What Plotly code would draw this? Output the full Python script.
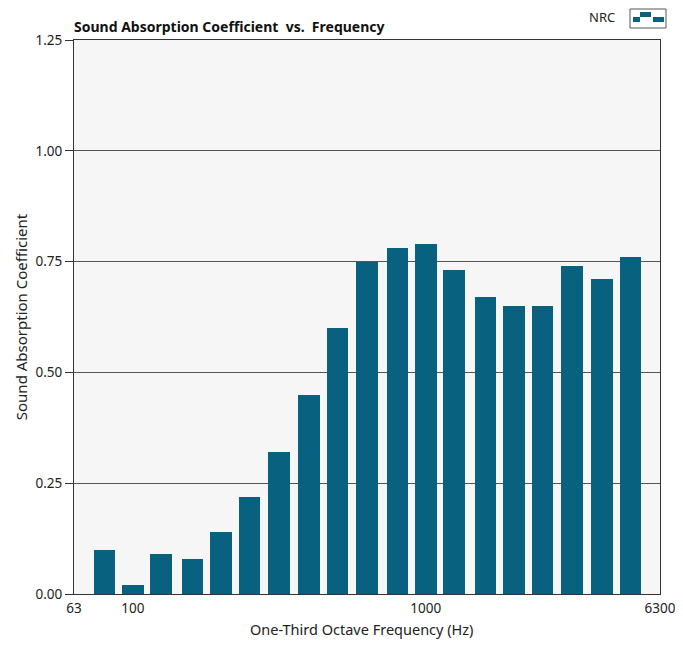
import math
import plotly.graph_objects as go

freqs = [80, 100, 125, 160, 200, 250, 315, 400, 500, 630, 800, 1000,
         1250, 1600, 2000, 2500, 3150, 4000, 5000]
coeffs = [0.10, 0.02, 0.09, 0.08, 0.14, 0.22, 0.32, 0.45, 0.60, 0.75, 0.78, 0.79,
          0.73, 0.67, 0.65, 0.65, 0.74, 0.71, 0.76]
x_ticks = [63, 100, 1000, 6300]
y_ticks = [0.0, 0.25, 0.5, 0.75, 1.0, 1.25]

bar_color = "#07617f"
font_family = "Noto Sans, Open Sans, DejaVu Sans, sans-serif"

xs = [math.log10(f) for f in freqs]

fig = go.Figure()
fig.add_trace(go.Bar(
    x=xs, y=coeffs, width=0.074,
    marker=dict(color=bar_color, line=dict(width=0)),
    name="NRC", showlegend=False,
))

# page has an 8px body margin on every side; size the figure so it fits exactly
OFF = 8
W, H = 683 - 2 * OFF, 647 - 2 * OFF
L, T = 74 - OFF, 40 - OFF
R = W - L - 586
B = H - T - 554
pw, ph = W - L - R, H - T - B


def px(xp):
    return (xp - OFF - L) / pw


def py(yp):
    return (H + OFF - B - yp) / ph


fig.update_layout(
    width=W, height=H,
    margin=dict(l=L, r=R, t=T, b=B),
    paper_bgcolor="white",
    plot_bgcolor="#f6f6f6",
    font=dict(family=font_family, size=13, color="#222222"),
    bargap=0,
    xaxis=dict(
        range=[math.log10(63), math.log10(6300)],
        tickmode="array",
        tickvals=[math.log10(v) for v in x_ticks],
        ticktext=[str(v) for v in x_ticks],
        showgrid=False, zeroline=False,
        showline=True, linecolor="#333333", linewidth=1, mirror=True,
        ticks="outside", ticklen=2, tickcolor="rgba(0,0,0,0)",
        tickfont=dict(size=13.5, color="#222222"),
        ticklabeloverflow="allow",
        automargin=False,
    ),
    yaxis=dict(
        range=[0, 1.25],
        tickmode="array",
        tickvals=y_ticks,
        ticktext=[f"{v:.2f}" for v in y_ticks],
        showgrid=True, gridcolor="#555555", gridwidth=1,
        zeroline=False,
        showline=True, linecolor="#333333", linewidth=1, mirror=True,
        ticks="outside", ticklen=8, tickcolor="#333333",
        tickfont=dict(size=13.5, color="#222222"),
        title=dict(text="Sound Absorption Coefficient", standoff=4,
                   font=dict(size=15, color="#222222")),
    ),
    annotations=[
        dict(text="<b>Sound Absorption Coefficient  vs.  Frequency</b>",
             xref="paper", yref="paper", x=px(72), y=py(26),
             xanchor="left", yanchor="middle", showarrow=False,
             font=dict(size=14, color="#111111")),
        dict(text="One-Third Octave Frequency (Hz)",
             xref="paper", yref="paper", x=px(361), y=py(629),
             xanchor="center", yanchor="middle", showarrow=False,
             borderpad=0,
             font=dict(size=14.5, color="#222222")),
        dict(text="NRC", xref="paper", yref="paper", x=px(602), y=py(17),
             xanchor="center", yanchor="middle", showarrow=False,
             font=dict(size=13, color="#222222")),
    ],
    shapes=[
        dict(type="rect", xref="paper", yref="paper",
             x0=px(630), x1=px(666), y0=py(28), y1=py(9),
             line=dict(color="#555555", width=1), fillcolor="white"),
        dict(type="rect", xref="paper", yref="paper",
             x0=px(633), x1=px(640), y0=py(22), y1=py(17),
             line=dict(width=0), fillcolor=bar_color),
        dict(type="rect", xref="paper", yref="paper",
             x0=px(640), x1=px(651), y0=py(17), y1=py(12),
             line=dict(width=0), fillcolor=bar_color),
        dict(type="rect", xref="paper", yref="paper",
             x0=px(653), x1=px(664), y0=py(22), y1=py(17),
             line=dict(width=0), fillcolor=bar_color),
    ],
)

fig.write_html("out.html")
